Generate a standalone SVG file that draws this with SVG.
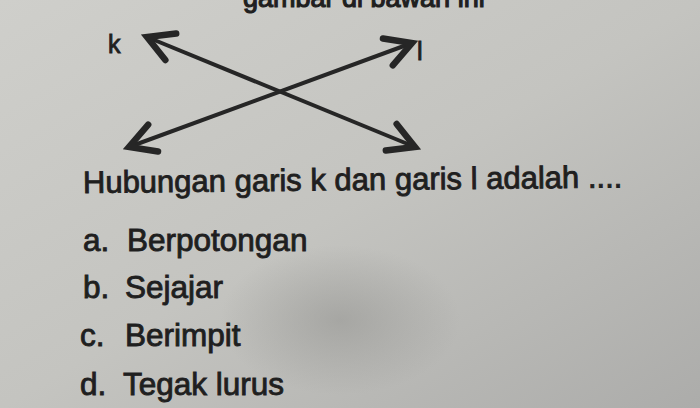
<svg xmlns="http://www.w3.org/2000/svg" width="700" height="408" viewBox="0 0 700 408">
  <defs>
    <linearGradient id="bg" x1="0" y1="0" x2="1" y2="1">
      <stop offset="0" stop-color="#cfcfcb"/>
      <stop offset="0.5" stop-color="#c4c4c0"/>
      <stop offset="1" stop-color="#acacaa"/>
    </linearGradient>
    <radialGradient id="smudge" cx="0.5" cy="0.5" r="0.5">
      <stop offset="0" stop-color="#8f8f8c" stop-opacity="0.5"/>
      <stop offset="1" stop-color="#8f8f8c" stop-opacity="0"/>
    </radialGradient>
    <marker id="chev" markerUnits="userSpaceOnUse" markerWidth="40" markerHeight="40" viewBox="-22 -14 26 28" refX="0" refY="0" orient="auto-start-reverse">
      <path d="M -18,-10 L 0,0 L -18,10" fill="none" stroke="#262626" stroke-width="4.5" stroke-linejoin="miter" stroke-linecap="round"/>
    </marker>
    <style>
      .t { font-family: "Liberation Sans", Arial, sans-serif; fill: #1f1f1f; stroke: #1f1f1f; stroke-width: 0.9; }
      .q { font-size: 31px; }
      .o { font-size: 31.5px; }
      .top { font-size: 27px; stroke-width: 1.2; }
      .lbl { font-size: 25px; }
      .ln { stroke: #262626; stroke-width: 4; fill: none; stroke-linecap: butt; }
    </style>
  </defs>
  <rect width="700" height="408" fill="url(#bg)"/>
  <ellipse cx="340" cy="320" rx="120" ry="75" fill="url(#smudge)"/>

  <text class="t top" x="243" y="7">gambar di bawah ini</text>

  <g id="connectors">
    <line id="line-k" class="ln" x1="147" y1="37" x2="415" y2="147" marker-start="url(#chev)" marker-end="url(#chev)"/>
    <line id="line-l" class="ln" x1="129" y1="147" x2="412" y2="43" marker-start="url(#chev)" marker-end="url(#chev)"/>
  </g>

  <g id="label-k"><text class="t lbl" x="108" y="53">k</text></g>
  <g id="label-l"><text class="t lbl" x="417" y="60">l</text></g>

  <g id="question">
    <text class="t q" x="83" y="193" transform="rotate(-0.6 83 193)">Hubungan garis k dan garis l adalah ....</text>
  </g>

  <g id="option-a">
    <text class="t o" x="83" y="251">a.</text>
    <text class="t o" x="127" y="251">Berpotongan</text>
  </g>
  <g id="option-b">
    <text class="t o" x="83" y="298">b.</text>
    <text class="t o" x="125" y="298">Sejajar</text>
  </g>
  <g id="option-c">
    <text class="t o" x="80" y="346">c.</text>
    <text class="t o" x="125" y="346">Berimpit</text>
  </g>
  <g id="option-d">
    <text class="t o" x="80" y="395">d.</text>
    <text class="t o" x="123" y="395">Tegak lurus</text>
  </g>
</svg>
